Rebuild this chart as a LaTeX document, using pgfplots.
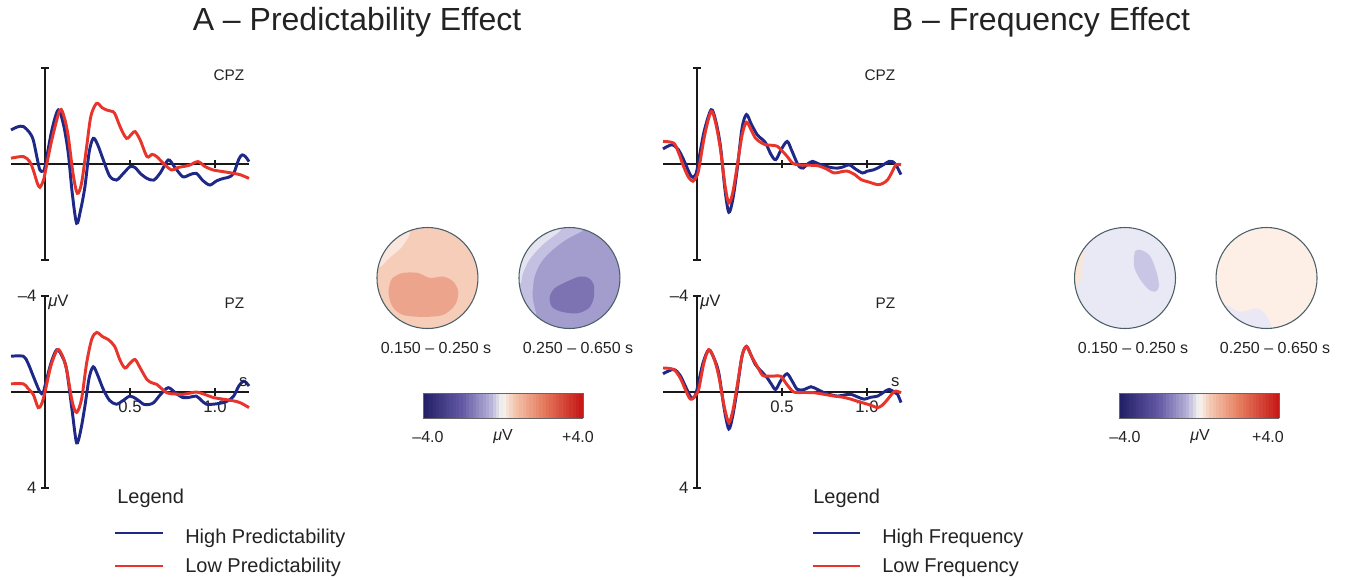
\documentclass[border=0pt]{standalone}
\usepackage{fontspec}
\setmainfont{Liberation Sans}
\usepackage{pgfplots}
\pgfplotsset{compat=1.18}

\definecolor{hiblue}{RGB}{30,40,135}
\definecolor{lored}{RGB}{232,52,42}
\definecolor{axk}{RGB}{25,25,25}
\definecolor{txt}{RGB}{35,35,35}
\definecolor{headline}{RGB}{75,95,105}
% topomap fills
\definecolor{aonebase}{RGB}{246,205,185}
\definecolor{aonedark}{RGB}{236,165,140}
\definecolor{aonelight}{RGB}{250,230,220}
\definecolor{atwobase}{RGB}{162,157,205}
\definecolor{atwodark}{RGB}{125,115,178}
\definecolor{atwoband}{RGB}{195,192,225}
\definecolor{atwostrip}{RGB}{228,228,240}
\definecolor{bonebase}{RGB}{233,232,245}
\definecolor{bonedark}{RGB}{200,198,228}
\definecolor{bonepeach}{RGB}{250,230,215}
\definecolor{btwobase}{RGB}{253,239,229}
\definecolor{btwolav}{RGB}{234,232,245}

\pgfplotsset{
  colormap={erp}{rgb255(0cm)=(32,30,100); rgb255(2cm)=(100,90,165);
    rgb255(3.4cm)=(182,177,216); rgb255(4cm)=(248,245,242);
    rgb255(4.6cm)=(244,198,175); rgb255(6cm)=(230,125,95); rgb255(8cm)=(198,22,22)},
  erp/.style={
    scale only axis, width=178.5pt, height=144pt,
    xmin=-0.2, xmax=1.2, ymin=-4, ymax=4, y dir=reverse,
    axis lines=middle,
    axis line style={-, line width=1.6pt, axk},
    xtick={0.5,1.0}, ytick={-4,4},
    tick align=center, major tick length=6pt,
    tick style={line width=1.6pt, axk},
    tick label style={font=\fontsize{12.5}{14}\selectfont, text=txt},
    clip=false, anchor=north west,
  },
  nolabels/.style={xticklabels={}, yticklabels={}},
  withlabels/.style={xticklabels={0.5,1.0}, yticklabels={–4,4}},
  hi/.style={hiblue, line width=2.2pt, smooth},
  lo/.style={lored, line width=2.2pt, smooth},
  topo/.style={
    hide axis, scale only axis, width=75.75pt, height=75.75pt,
    xmin=-1, xmax=1, ymin=-1, ymax=1, anchor=center, clip=false,
  },
  cbar/.style={
    anchor=center, hide axis, scale only axis,
    width=120pt, height=18.75pt, xmin=0, xmax=1, ymin=0, ymax=1,
    colormap name=erp, point meta min=-4, point meta max=4,
    colorbar horizontal, colorbar sampled,
    colorbar style={at={(parent axis.north west)}, anchor=north west,
      scale only axis, width=120pt, height=18.75pt, xtick=\empty, samples=49,
      axis line style={black!60, line width=0.5pt}},
  },
}

\newcommand{\headmask}{%
  \draw[white, line width=11pt] (axis cs:0,0) circle[radius=1.15];
  \draw[headline, line width=0.8pt] (axis cs:0,0) circle[radius=1];}

\begin{document}
\begin{tikzpicture}
\path[use as bounding box] (0,0) rectangle (1008.75pt,-434.25pt);

% ---------------- A: CPZ
\begin{axis}[erp, nolabels, at={(8.25pt,-51pt)}]
\addplot[hi] coordinates {
(-0.2,-1.42) (-0.16,-1.55) (-0.127,-1.56) (-0.09,-1.3) (-0.069,-1.0) (-0.045,-0.2)
(-0.03,0.25) (-0.012,0.3) (0,0.11) (0.04,-1.4) (0.078,-2.25) (0.11,-1.6) (0.137,-0.44)
(0.16,1.2) (0.186,2.47) (0.21,1.9) (0.235,0.94) (0.26,-0.5) (0.284,-1.07) (0.31,-0.8)
(0.343,-0.17) (0.38,0.5) (0.42,0.67) (0.46,0.4) (0.5,0.11) (0.53,0.15) (0.56,0.39)
(0.6,0.6) (0.64,0.67) (0.68,0.35) (0.725,-0.17) (0.76,0.1) (0.81,0.53) (0.85,0.45)
(0.89,0.39) (0.93,0.7) (0.97,0.875) (1.01,0.7) (1.05,0.6) (1.08,0.55) (1.11,0.39)
(1.14,-0.2) (1.16,-0.38) (1.18,-0.3) (1.2,-0.1)};
\addplot[lo] coordinates {
(-0.2,-0.24) (-0.127,-0.31) (-0.09,-0.1) (-0.069,0.25) (-0.045,0.8) (-0.03,0.97)
(-0.01,0.7) (0,0.39) (0.04,-1.0) (0.088,-2.25) (0.115,-1.9) (0.137,-1.14) (0.165,0.4)
(0.19,1.22) (0.215,0.8) (0.245,-0.72) (0.27,-2.0) (0.304,-2.53) (0.335,-2.35)
(0.363,-2.25) (0.39,-2.2) (0.41,-2.11) (0.445,-1.5) (0.48,-1.07) (0.51,-1.25)
(0.53,-1.35) (0.56,-1.0) (0.6,-0.31) (0.63,-0.4) (0.657,-0.31) (0.7,0.0) (0.745,0.25)
(0.78,0.15) (0.81,0.11) (0.85,0.05) (0.9,-0.1) (0.94,0.1) (0.99,0.25) (1.05,0.32)
(1.11,0.39) (1.15,0.45) (1.2,0.6)};
\end{axis}

% ---------------- A: PZ
\begin{axis}[erp, withlabels, at={(8.25pt,-222pt)}]
\addplot[hi] coordinates {
(-0.2,-1.49) (-0.127,-1.49) (-0.1,-1.2) (-0.069,-0.66) (-0.03,0) (-0.012,0.05) (0,-0.25)
(0.035,-1.2) (0.069,-1.76) (0.1,-1.5) (0.127,-0.94) (0.16,0.8) (0.186,2.12) (0.21,1.6)
(0.235,0.58) (0.26,-0.6) (0.284,-1.05) (0.31,-0.7) (0.343,-0.11) (0.38,0.35) (0.42,0.51)
(0.46,0.35) (0.5,0.17) (0.54,0.3) (0.58,0.51) (0.61,0.52) (0.64,0.44) (0.68,0.1)
(0.725,-0.18) (0.77,0.05) (0.81,0.23) (0.85,0.22) (0.89,0.17) (0.92,0.35) (0.95,0.51)
(1.0,0.5) (1.05,0.44) (1.08,0.35) (1.11,0.17) (1.14,-0.25) (1.167,-0.45) (1.185,-0.38)
(1.2,-0.25)};
\addplot[lo] coordinates {
(-0.2,-0.34) (-0.127,-0.34) (-0.1,-0.15) (-0.069,0.1) (-0.04,0.65) (-0.02,0.5) (0,0)
(0.035,-1.1) (0.073,-1.76) (0.1,-1.55) (0.127,-0.94) (0.16,0.4) (0.186,0.85) (0.215,0.3)
(0.245,-1.21) (0.275,-2.2) (0.304,-2.48) (0.34,-2.3) (0.373,-2.18) (0.41,-1.9)
(0.44,-1.35) (0.47,-1.0) (0.5,-1.2) (0.53,-1.35) (0.56,-1.0) (0.6,-0.52) (0.63,-0.38)
(0.657,-0.32) (0.716,0.03) (0.76,0.08) (0.81,0.1) (0.85,0.05) (0.89,0) (0.94,0.1)
(0.99,0.23) (1.05,0.3) (1.11,0.37) (1.15,0.45) (1.2,0.65)};
\node[anchor=west, font=\fontsize{12.5}{14}\selectfont, text=txt, inner sep=1pt] at (axis cs:0.01,-3.75) {\textit{μ}V};
\node[anchor=south east, font=\fontsize{12.5}{14}\selectfont, text=txt, inner sep=1pt] at (axis cs:1.2,-0.15) {s};
\end{axis}

% ---------------- B: CPZ
\begin{axis}[erp, nolabels, at={(497.25pt,-51pt)}]
\addplot[hi] coordinates {
(-0.2,-0.63) (-0.148,-0.8) (-0.11,-0.6) (-0.079,-0.18) (-0.035,0.51) (-0.015,0.5)
(0,0.24) (0.04,-1.3) (0.083,-2.26) (0.11,-1.8) (0.138,-0.74) (0.165,1.1) (0.187,2.01)
(0.21,1.5) (0.236,0.24) (0.265,-1.5) (0.291,-2.06) (0.32,-1.65) (0.354,-1.22)
(0.38,-1.05) (0.404,-0.875) (0.435,-0.4) (0.463,-0.18) (0.495,-0.6) (0.53,-0.94)
(0.555,-0.6) (0.58,-0.18) (0.6,0.1) (0.624,0.17) (0.65,0.0) (0.68,-0.11) (0.71,-0.02)
(0.748,0.07) (0.79,0.15) (0.827,0.17) (0.86,0.12) (0.896,0.03) (0.93,0.2) (0.974,0.375)
(1.0,0.3) (1.04,0.24) (1.08,0.1) (1.13,-0.11) (1.15,-0.1) (1.17,0.03) (1.19,0.3)
(1.2,0.44)};
\addplot[lo] coordinates {
(-0.2,-0.94) (-0.138,-0.875) (-0.11,-0.5) (-0.079,0.1) (-0.05,0.55) (-0.024,0.72)
(-0.005,0.55) (0.01,0.24) (0.045,-1.2) (0.083,-2.19) (0.11,-1.7) (0.138,-0.6)
(0.165,0.9) (0.187,1.625) (0.21,1.2) (0.236,0.1) (0.265,-1.2) (0.291,-1.74) (0.32,-1.4)
(0.344,-1.08) (0.375,-0.9) (0.404,-0.8) (0.44,-0.78) (0.472,-0.74) (0.5,-0.55)
(0.53,-0.32) (0.56,-0.05) (0.59,0.03) (0.65,0.05) (0.709,0.07) (0.76,0.2) (0.807,0.375)
(0.85,0.32) (0.886,0.3) (0.93,0.45) (0.965,0.65) (1.01,0.75) (1.063,0.86) (1.095,0.8)
(1.122,0.65) (1.15,0.3) (1.17,0.03) (1.2,0.03)};
\end{axis}

% ---------------- B: PZ
\begin{axis}[erp, withlabels, at={(497.25pt,-222pt)}]
\addplot[hi] coordinates {
(-0.2,-0.76) (-0.138,-0.94) (-0.1,-0.7) (-0.069,-0.25) (-0.035,0.23) (-0.015,0.2)
(0,-0.11) (0.035,-1.2) (0.069,-1.76) (0.1,-1.4) (0.128,-0.8) (0.16,0.7) (0.187,1.54)
(0.21,1.0) (0.236,-0.11) (0.265,-1.5) (0.291,-1.9) (0.32,-1.5) (0.344,-1.14)
(0.38,-0.85) (0.413,-0.59) (0.44,-0.3) (0.463,-0.11) (0.495,-0.5) (0.53,-0.76)
(0.56,-0.45) (0.59,-0.11) (0.63,-0.1) (0.67,-0.22) (0.71,-0.1) (0.748,0.03) (0.79,0.12)
(0.827,0.17) (0.87,0.12) (0.906,0.1) (0.95,0.22) (0.984,0.3) (1.02,0.22) (1.063,0.17)
(1.1,0.0) (1.13,-0.11) (1.16,0.0) (1.18,0.1) (1.2,0.44)};
\addplot[lo] coordinates {
(-0.2,-1.0) (-0.138,-0.94) (-0.1,-0.6) (-0.069,-0.11) (-0.045,0.25) (-0.03,0.3)
(-0.01,0.15) (0.01,-0.11) (0.04,-1.2) (0.069,-1.76) (0.1,-1.4) (0.128,-0.66) (0.16,0.6)
(0.187,1.27) (0.21,0.8) (0.236,-0.25) (0.265,-1.5) (0.291,-1.9) (0.32,-1.5)
(0.354,-1.07) (0.385,-0.7) (0.413,-0.66) (0.45,-0.66) (0.492,-0.66) (0.53,-0.3)
(0.57,0) (0.63,0.02) (0.689,0.03) (0.75,0.1) (0.807,0.17) (0.86,0.22) (0.906,0.3)
(0.95,0.4) (1.004,0.51) (1.04,0.6) (1.063,0.65) (1.09,0.55) (1.122,0.3) (1.15,0.05)
(1.17,-0.04) (1.2,0.03)};
\node[anchor=west, font=\fontsize{12.5}{14}\selectfont, text=txt, inner sep=1pt] at (axis cs:0.01,-3.75) {\textit{μ}V};
\node[anchor=south east, font=\fontsize{12.5}{14}\selectfont, text=txt, inner sep=1pt] at (axis cs:1.2,-0.15) {s};
\end{axis}

% ---------------- topographic maps
\begin{axis}[topo, at={(320.6pt,-208.5pt)}]
\fill[aonebase] (axis cs:0,0) circle[radius=1];
\addplot[fill=aonedark, draw=none, smooth cycle] coordinates {
(-0.75,-0.13) (-0.69,0) (-0.49,0.1) (-0.19,0.1) (0.05,0) (0.31,0.03) (0.51,-0.07)
(0.61,-0.27) (0.55,-0.53) (0.31,-0.73) (-0.09,-0.77) (-0.49,-0.73) (-0.69,-0.57) (-0.77,-0.33)};
\addplot[fill=aonelight, draw=none, smooth cycle] coordinates {
(-0.35,0.87) (-0.52,0.6) (-0.75,0.4) (-0.92,0.23) (-1.03,0.22) (-0.95,0.5) (-0.75,0.78) (-0.4,0.98)};
\headmask
\end{axis}

\begin{axis}[topo, at={(427.1pt,-208.5pt)}]
\fill[atwobase] (axis cs:0,0) circle[radius=1];
\addplot[fill=atwoband, draw=none, smooth cycle] coordinates {
(0.25,0.93) (-0.05,0.77) (-0.32,0.57) (-0.55,0.33) (-0.69,0.03) (-0.73,-0.37) (-0.65,-0.77)
(-0.70,-0.85) (-0.91,-0.52) (-1.04,-0.18) (-1.04,0.18) (-0.91,0.52) (-0.67,0.8) (-0.36,0.99)
(0,1.05) (0.27,1.01)};
\addplot[fill=atwostrip, draw=none, smooth cycle] coordinates {
(-0.19,0.93) (-0.52,0.67) (-0.79,0.37) (-0.93,0.07) (-0.96,-0.1) (-1.05,-0.09) (-1.02,0.27)
(-0.86,0.62) (-0.55,0.9) (-0.18,1.04)};
\addplot[fill=atwodark, draw=none, smooth cycle] coordinates {
(-0.39,-0.37) (-0.29,-0.2) (-0.05,-0.07) (0.21,0.03) (0.38,0) (0.48,-0.13) (0.48,-0.4)
(0.38,-0.6) (0.15,-0.7) (-0.15,-0.67) (-0.35,-0.57)};
\headmask
\end{axis}

\begin{axis}[topo, at={(843.75pt,-208.5pt)}]
\fill[bonebase] (axis cs:0,0) circle[radius=1];
\addplot[fill=bonedark, draw=none, smooth cycle] coordinates {
(0.2,0.53) (0.33,0.55) (0.5,0.43) (0.63,0.1) (0.67,-0.17) (0.6,-0.27) (0.47,-0.23) (0.3,-0.03) (0.18,0.23)};
\addplot[fill=bonepeach, draw=none, smooth cycle] coordinates {
(-0.8,0.5) (-0.85,0.23) (-0.89,-0.07) (-1.03,-0.17) (-1.05,0.1) (-0.97,0.38) (-0.82,0.62)};
\headmask
\end{axis}

\begin{axis}[topo, at={(949.9pt,-208.5pt)}]
\fill[btwobase] (axis cs:0,0) circle[radius=1];
\addplot[fill=btwolav, draw=none, smooth cycle] coordinates {
(-0.8,-0.53) (-0.53,-0.67) (-0.2,-0.6) (-0.03,-0.7) (0.1,-0.97) (0.1,-1.05) (-0.2,-1.04)
(-0.48,-0.95) (-0.72,-0.8) (-0.87,-0.6)};
\headmask
\end{axis}

% ---------------- colour bars
\begin{axis}[cbar, at={(377.25pt,-295.85pt)}]
\addplot[draw=none] coordinates {(0,0)};
\end{axis}
\begin{axis}[cbar, at={(899.6pt,-295.85pt)}]
\addplot[draw=none] coordinates {(0,0)};
\end{axis}

% ---------------- texts and legends (pixel coordinates)
\begin{scope}[x=0.75pt, y=-0.75pt, every node/.style={text=txt}]
\node[anchor=base, font=\fontsize{24}{28}\selectfont] at (357,30) {A – Predictability Effect};
\node[anchor=base, font=\fontsize{24}{28}\selectfont] at (1041,30) {B – Frequency Effect};

\node[anchor=east, font=\fontsize{11.5}{13}\selectfont] at (249,75) {CPZ};
\node[anchor=east, font=\fontsize{11.5}{13}\selectfont] at (249,303) {PZ};
\node[anchor=east, font=\fontsize{11.5}{13}\selectfont] at (900,75) {CPZ};
\node[anchor=east, font=\fontsize{11.5}{13}\selectfont] at (900,303) {PZ};

\node[font=\fontsize{12}{14}\selectfont] at (436,348) {0.150 – 0.250 s};
\node[font=\fontsize{12}{14}\selectfont] at (578,348) {0.250 – 0.650 s};
\node[font=\fontsize{12}{14}\selectfont] at (1133,348) {0.150 – 0.250 s};
\node[font=\fontsize{12}{14}\selectfont] at (1275,348) {0.250 – 0.650 s};

\node[font=\fontsize{12}{14}\selectfont] at (428,437) {–4.0};
\node[font=\fontsize{12}{14}\selectfont] at (503,437) {\textit{μ}V};
\node[font=\fontsize{12}{14}\selectfont] at (578,437) {+4.0};
\node[font=\fontsize{12}{14}\selectfont] at (1125,437) {–4.0};
\node[font=\fontsize{12}{14}\selectfont] at (1200,437) {\textit{μ}V};
\node[font=\fontsize{12}{14}\selectfont] at (1268,437) {+4.0};

\node[anchor=base west, font=\fontsize{15}{18}\selectfont, inner sep=0pt] at (117,503) {Legend};
\draw[hiblue, line width=1.6pt] (115,533) -- (163,533);
\draw[lored, line width=1.6pt] (115,566) -- (163,566);
\node[anchor=base west, font=\fontsize{15}{18}\selectfont, inner sep=0pt] at (185,543) {High Predictability};
\node[anchor=base west, font=\fontsize{15}{18}\selectfont, inner sep=0pt] at (185,572) {Low Predictability};

\node[anchor=base west, font=\fontsize{15}{18}\selectfont, inner sep=0pt] at (813,503) {Legend};
\draw[hiblue, line width=1.6pt] (813,533) -- (860,533);
\draw[lored, line width=1.6pt] (813,566) -- (860,566);
\node[anchor=base west, font=\fontsize{15}{18}\selectfont, inner sep=0pt] at (882,543) {High Frequency};
\node[anchor=base west, font=\fontsize{15}{18}\selectfont, inner sep=0pt] at (882,572) {Low Frequency};
\end{scope}
\end{tikzpicture}
\end{document}
